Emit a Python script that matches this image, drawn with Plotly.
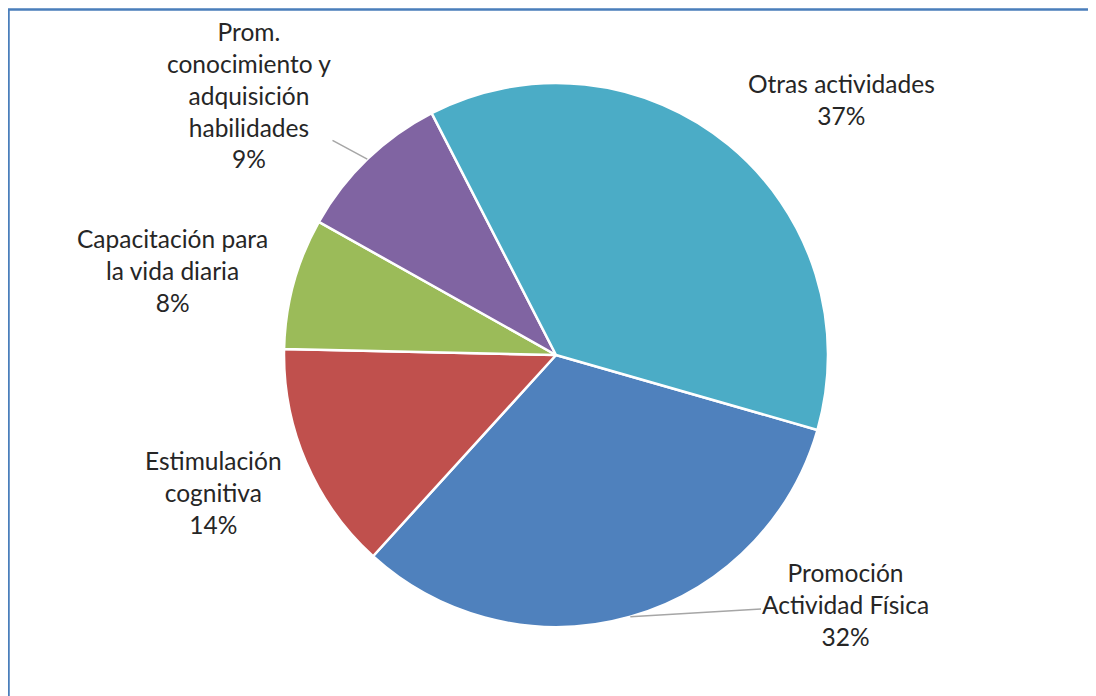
import math

import plotly.graph_objects as go

# data (Excel order: first slice = blue)
categories = [
    "Promoción Actividad Física",
    "Estimulación cognitiva",
    "Capacitación para la vida diaria",
    "Prom. conocimiento y adquisición habilidades",
    "Otras actividades",
]
label_text = [
    "Promoción<br>Actividad Física",
    "Estimulación<br>cognitiva",
    "Capacitación para<br>la vida diaria",
    "Prom.<br>conocimiento y<br>adquisición<br>habilidades",
    "Otras actividades",
]
values = [32.3, 13.6, 7.8, 9.3, 37.0]

colors = ["#4F81BD", "#C0504D", "#9BBB59", "#8064A2", "#4BACC6"]

# layout, in page pixels; the page body adds an 8px margin, so the
# figure itself is 8px smaller and everything is shifted by that
PAGE = 8
W, H = 1096 - PAGE, 696 - PAGE
CX, CY, R = 556 - PAGE, 355 - PAGE, 272
ROTATION = 106
label_pos = [(846, 604), (213, 492), (172, 270), (249, 95), (841, 99)]
has_leader = [True, False, False, True, False]
FONT = dict(family="Lato, Carlito, Calibri, sans-serif", size=24.5, color="#262626")


def main() -> None:
    fig = go.Figure()
    fig.add_trace(
        go.Pie(
            labels=categories,
            values=values,
            sort=False,
            direction="clockwise",
            rotation=ROTATION,
            marker=dict(colors=colors, line=dict(color="white", width=2.5)),
            textinfo="none",
            hoverinfo="label+percent",
            showlegend=False,
            domain=dict(
                x=[(CX - R) / W, (CX + R) / W],
                y=[1 - (CY + R) / H, 1 - (CY - R) / H],
            ),
        )
    )

    total = sum(values)
    cum = 0.0
    annotations = []
    for name, v, (lx, ly), lead in zip(label_text, values, label_pos, has_leader):
        lx, ly = lx - PAGE, ly - PAGE
        pct = round(v / total * 100)
        text = f"{name}<br>{pct}%"
        mid = math.radians(ROTATION + 360 * (cum + v / 2) / total)
        cum += v
        if lead:
            px = CX + R * math.sin(mid)
            py = CY - R * math.cos(mid)
            annotations.append(
                dict(
                    x=px / W, y=1 - py / H, xref="paper", yref="paper",
                    text=text, showarrow=True, arrowhead=0, arrowwidth=1.5,
                    arrowcolor="#a6a6a6", standoff=0,
                    ax=lx - px, ay=ly - py, font=FONT, align="center",
                )
            )
        else:
            annotations.append(
                dict(
                    x=lx / W, y=1 - ly / H, xref="paper", yref="paper",
                    text=text, showarrow=False, font=FONT, align="center",
                    xanchor="center", yanchor="middle",
                )
            )

    fig.update_layout(
        width=W,
        height=H,
        margin=dict(l=0, r=0, t=0, b=0),
        paper_bgcolor="white",
        plot_bgcolor="white",
        annotations=annotations,
        shapes=[
            dict(
                type="rect", xref="paper", yref="paper",
                x0=0.5 / W, x1=1.5, y0=-0.5, y1=1 - 1.5 / H,
                line=dict(color="#4A7EBB", width=2.5),
            )
        ],
    )
    fig.write_html("out.html")


if __name__ == "__main__":
    main()
